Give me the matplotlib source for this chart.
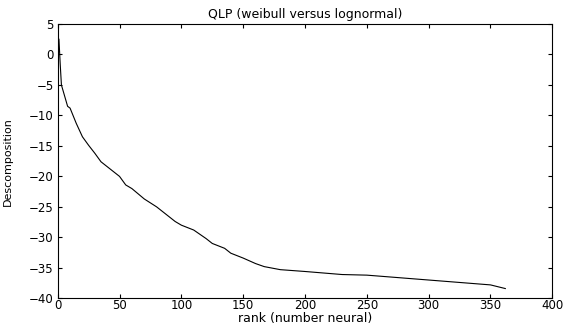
import numpy as np
import matplotlib
matplotlib.use("Agg")
import matplotlib.pyplot as plt

# rank vs decomposition
rank = [1, 2, 3, 8, 10, 15, 20, 25, 30, 35, 40, 50, 55, 60, 70, 80, 90, 95,
        100, 110, 120, 125, 135, 140, 150, 160, 167, 180, 200, 230, 250, 300,
        350, 362]
descomp = [2.5, -1.5, -5.0, -8.5, -8.8, -11.3, -13.5, -14.9, -16.2, -17.6,
           -18.4, -20.0, -21.4, -22.0, -23.7, -25.0, -26.6, -27.4, -28.0,
           -28.8, -30.2, -31.0, -31.8, -32.6, -33.4, -34.3, -34.8, -35.3,
           -35.6, -36.1, -36.2, -37.0, -37.8, -38.4]

xticks = [0, 50, 100, 150, 200, 250, 300, 350, 400]
yticks = [5, 0, -5, -10, -15, -20, -25, -30, -35, -40]

plt.rcParams['font.family'] = ['DejaVu Sans']
plt.rcParams['font.size'] = 9

fig = plt.figure(figsize=(5.63, 3.29), dpi=100)
ax = fig.add_axes([0.1025, 0.0933, 0.8785, 0.8337])

ax.plot(rank, descomp, color='black', linewidth=0.8)

ax.set_xlim(0, 400)
ax.set_ylim(-40, 5)
ax.set_xticks(xticks)
ax.set_yticks(yticks)
ax.tick_params(direction='in', top=True, right=True, length=3, width=0.8,
               labelsize=8.5)
ax.tick_params(axis='x', pad=0.5)
ax.tick_params(axis='y', pad=3)
for s in ax.spines.values():
    s.set_linewidth(0.8)

ax.set_title('QLP (weibull versus lognormal)', fontsize=9, pad=4)
ax.set_xlabel('rank (number neural)', fontsize=9, labelpad=0)
ax.set_ylabel('Descomposition', fontsize=8)
ax.yaxis.set_label_coords(-0.09, 0.5)

fig.savefig('out.png', dpi=100)
